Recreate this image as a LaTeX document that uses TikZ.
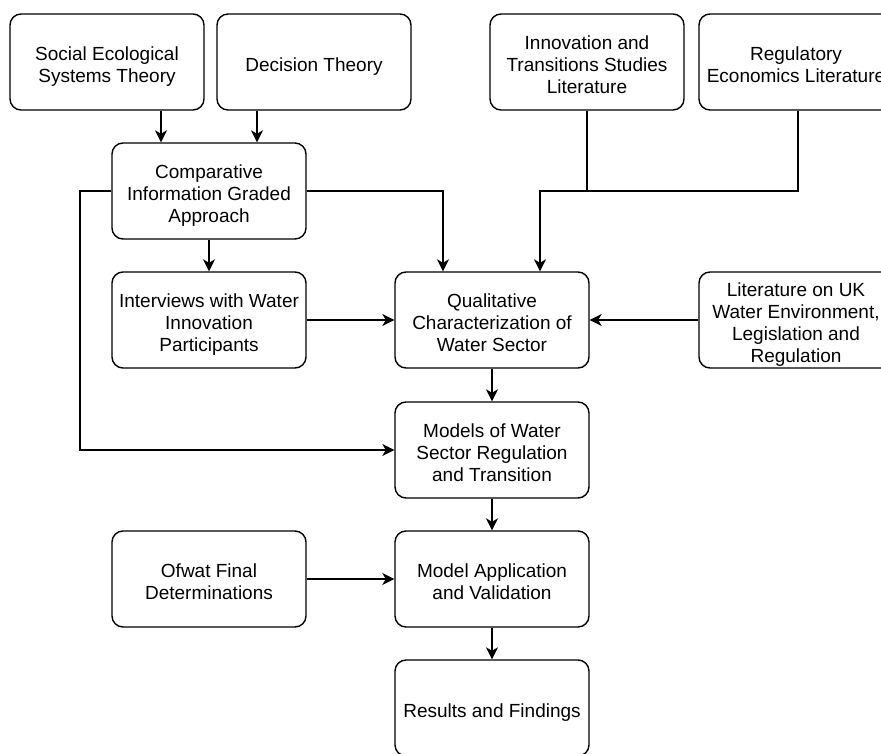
\documentclass[tikz,border=0pt]{standalone}
\usepackage{fontspec}
\setmainfont{Liberation Sans}
\usetikzlibrary{arrows.meta,calc}
% centred block of lines, placed a little below the box centre
\newcommand\boxlabel[1]{\raisebox{-9pt}[0pt][0pt]{\begin{tabular}{@{}c@{}}#1\end{tabular}}}
\begin{document}
\begin{tikzpicture}[x=1pt,y=-1pt,
  box/.style={draw, rounded corners=11pt, line width=1.4pt, fill=white,
    minimum width=194pt, minimum height=96pt, inner sep=0pt,
    font=\fontsize{19}{22}\selectfont},
  arr/.style={line width=1.4pt, -{Stealth[length=12pt,width=12pt,inset=3.5pt]}},
  ln/.style={line width=1.4pt}]
\clip (0,0) rectangle (881,753);
\fill[white] (0,0) rectangle (881,753);

% top row of sources
\node[box] (set)  at (107,62) {\boxlabel{Social Ecological\\Systems Theory}};
\node[box] (dec)  at (314,62) {\boxlabel{Decision Theory}};
\node[box] (inno) at (587,62) {\boxlabel{Innovation and\\Transitions Studies\\Literature}};
\node[box] (reg)  at (796,62) {\boxlabel{Regulatory\\Economics Literature}};

% left column
\node[box] (cig)   at (209,191) {\boxlabel{Comparative\\Information Graded\\Approach}};
\node[box] (intv)  at (209,320) {\boxlabel{Interviews with Water\\Innovation\\Participants}};
\node[box] (ofwat) at (209,579) {\boxlabel{Ofwat Final\\Determinations}};

% central column
\node[box] (qual)    at (492,320) {\boxlabel{Qualitative\\Characterization of\\Water Sector}};
\node[box] (models)  at (492,450) {\boxlabel{Models of Water\\Sector Regulation\\and Transition}};
\node[box] (apply)   at (492,579) {\boxlabel{Model Application\\and Validation}};
\node[box] (results) at (492,708) {\boxlabel{Results and Findings}};

% right column
\node[box] (ukl) at (796,320) {\boxlabel{Literature on UK\\Water Environment,\\Legislation and\\Regulation}};

% theory inputs
\draw[arr] (set.south -| 161,0) -- (cig.north -| 161,0);
\draw[arr] (dec.south -| 257,0) -- (cig.north -| 257,0);

% comparative approach feeds three boxes
\draw[arr] (cig.south) -- (intv.north);
\draw[arr] (cig.west) -| (80,0 |- models.west) -- (models.west);
\draw[arr] (cig.east) -| ([xshift=-49pt]qual.north);

% literature streams merge into one input
\coordinate (merge) at (inno.south |- cig.east);
\draw[ln] (reg.south -| 798,0) |- (merge);
\draw[arr] (inno.south) -- (merge) -| ([xshift=48pt]qual.north);

% horizontal inputs
\draw[arr] (intv.east) -- (qual.west);
\draw[arr] (ukl.west) -- (qual.east);
\draw[arr] (ofwat.east) -- (apply.west);

% main spine
\draw[arr] (qual.south) -- (models.north);
\draw[arr] (models.south) -- (apply.north);
\draw[arr] (apply.south) -- (results.north);
\end{tikzpicture}
\end{document}
